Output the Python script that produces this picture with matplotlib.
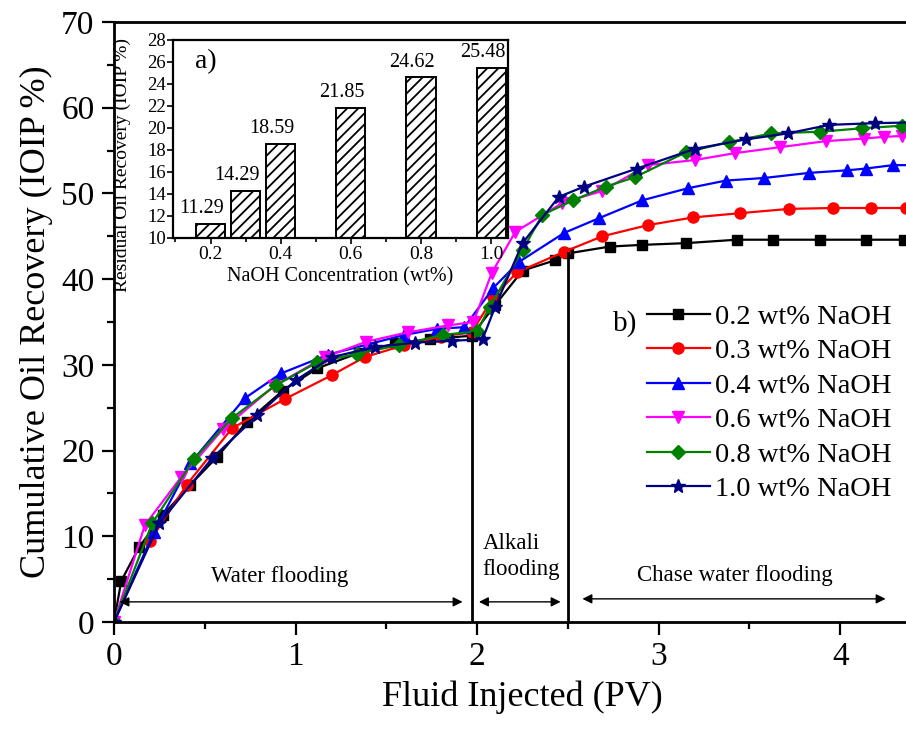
import matplotlib
matplotlib.use("Agg")
import matplotlib.pyplot as plt
from matplotlib.ticker import MultipleLocator, AutoMinorLocator

plt.rcParams['font.family'] = ['Liberation Serif', 'DejaVu Serif']
plt.rcParams['hatch.linewidth'] = 1.3
plt.rcParams['hatch.color'] = 'black'

# --- data: cumulative recovery curves ---
labels = ["0.2 wt% NaOH", "0.3 wt% NaOH", "0.4 wt% NaOH",
          "0.6 wt% NaOH", "0.8 wt% NaOH", "1.0 wt% NaOH"]

pv_02 = [0, 0.04, 0.14, 0.27, 0.42, 0.57, 0.73, 0.93, 1.12, 1.35, 1.55, 1.74, 1.97,
         2.1, 2.25, 2.43, 2.5, 2.73, 2.91, 3.15, 3.43, 3.63, 3.89, 4.14, 4.35]
rec_02 = [0, 4.8, 8.8, 12.5, 16.0, 19.3, 23.3, 27.0, 29.6, 31.4, 32.5, 33.0, 33.4,
          37.0, 41.0, 42.2, 43.0, 43.8, 44.0, 44.2, 44.6, 44.6, 44.6, 44.6, 44.6]

pv_03 = [0, 0.2, 0.4, 0.65, 0.94, 1.2, 1.38, 1.6, 1.8, 1.97,
         2.09, 2.22, 2.48, 2.69, 2.94, 3.19, 3.45, 3.72, 3.96, 4.17, 4.36]
rec_03 = [0, 9.5, 16.0, 22.6, 26.0, 28.8, 30.9, 32.3, 33.3, 33.8,
          37.9, 40.8, 43.2, 45.0, 46.3, 47.2, 47.7, 48.2, 48.3, 48.3, 48.3]

pv_04 = [0, 0.22, 0.42, 0.72, 0.92, 1.18, 1.4, 1.6, 1.78, 1.93,
         2.09, 2.23, 2.48, 2.67, 2.91, 3.16, 3.37, 3.58, 3.83, 4.04, 4.14, 4.29, 4.45]
rec_04 = [0, 10.5, 18.5, 26.1, 29.0, 31.2, 32.4, 33.5, 34.2, 34.4,
          39.0, 42.0, 45.4, 47.1, 49.2, 50.6, 51.5, 51.8, 52.4, 52.7, 52.9, 53.3, 53.3]

pv_06 = [0, 0.17, 0.37, 0.6, 0.88, 1.16, 1.39, 1.62, 1.84, 1.98,
         2.08, 2.21, 2.47, 2.69, 2.94, 3.2, 3.42, 3.67, 3.92, 4.13, 4.24, 4.34]
rec_06 = [0, 11.3, 16.9, 22.5, 27.5, 30.9, 32.7, 33.8, 34.6, 35.0,
          40.7, 45.5, 48.9, 50.3, 53.3, 53.9, 54.7, 55.4, 56.1, 56.4, 56.6, 56.7]

pv_08 = [0, 0.21, 0.44, 0.65, 0.89, 1.12, 1.34, 1.57, 1.81, 2.0,
         2.07, 2.25, 2.36, 2.53, 2.71, 2.87, 3.15, 3.39, 3.62, 3.89, 4.12, 4.34]
rec_08 = [0, 11.5, 19.0, 23.8, 27.6, 30.3, 31.3, 32.3, 33.5, 33.9,
          36.8, 43.4, 47.5, 49.2, 50.8, 51.9, 54.8, 56.0, 57.0, 57.2, 57.6, 57.9]

pv_10 = [0, 0.25, 0.54, 0.79, 1.0, 1.2, 1.44, 1.66, 1.86, 2.03,
         2.1, 2.25, 2.45, 2.59, 2.88, 3.2, 3.48, 3.71, 3.94, 4.19, 4.45]
rec_10 = [0, 11.5, 19.1, 24.1, 28.2, 30.9, 32.1, 32.6, 32.8, 33.0,
          36.8, 44.2, 49.6, 50.8, 52.9, 55.2, 56.3, 57.0, 58.0, 58.2, 58.3]

# --- data: inset bar chart ---
conc = [0.2, 0.3, 0.4, 0.6, 0.8, 1.0]
residual = [11.29, 14.29, 18.59, 21.85, 24.62, 25.48]

series = [(pv_02, rec_02), (pv_03, rec_03), (pv_04, rec_04),
          (pv_06, rec_06), (pv_08, rec_08), (pv_10, rec_10)]
colors = ['black', '#ff0000', '#0000ff', '#ff00ff', '#008000', '#000080']
markers = ['s', 'o', '^', 'v', 'D', '*']
msizes = [7, 8, 8.5, 8.5, 7, 10]

W, H = 906, 731
fig = plt.figure(figsize=(W / 100, H / 100), dpi=100)

# main axes (extends past the right edge like the original crop)
ax = fig.add_axes([114 / W, 109 / H, (931 - 114) / W, 600 / H])
for (x, y), c, m, ms, lab in zip(series, colors, markers, msizes, labels):
    ax.plot(x, y, color=c, marker=m, markersize=ms, linewidth=1.6, label=lab)

ax.set_xlim(0, 4.5)
ax.set_ylim(0, 70)
ax.xaxis.set_major_locator(MultipleLocator(1))
ax.xaxis.set_minor_locator(MultipleLocator(0.5))
ax.yaxis.set_major_locator(MultipleLocator(10))
ax.yaxis.set_minor_locator(MultipleLocator(5))
ax.tick_params(which='both', direction='out', width=1.6, labelsize=24)
ax.tick_params(which='major', length=9, pad=5)
ax.tick_params(which='minor', length=5)
for s in ax.spines.values():
    s.set_linewidth(2)
ax.set_xlabel("Fluid Injected (PV)", fontsize=26, labelpad=6)
ax.set_ylabel("Cumulative Oil Recovery (IOIP %)", fontsize=26, labelpad=6)

# stage boundaries
ax.plot([1.97, 1.97], [0, 33.7], color='black', linewidth=2)
ax.plot([2.5, 2.5], [0, 43.0], color='black', linewidth=2)

arrow = dict(arrowstyle='<|-|>', color='black', lw=1.0,
             mutation_scale=14, shrinkA=0, shrinkB=0)
ax.annotate('', xy=(0.03, 2.35), xytext=(1.92, 2.35), arrowprops=arrow)
ax.annotate('', xy=(2.01, 2.35), xytext=(2.46, 2.35), arrowprops=arrow)
ax.annotate('', xy=(2.58, 2.7), xytext=(4.25, 2.7), arrowprops=arrow)
ax.text(0.91, 5.3, "Water flooding", fontsize=16.5, ha='center', va='center')
ax.text(2.03, 7.6, "Alkali\nflooding", fontsize=16.5, ha='left', va='center',
        linespacing=1.3)
ax.text(3.42, 5.4, "Chase water flooding", fontsize=16.5, ha='center', va='center')

leg = ax.legend(loc='upper left', bbox_to_anchor=(647 / W, 1 - 304 / H),
                bbox_transform=fig.transFigure, frameon=False, fontsize=20.5,
                handlelength=2.2, handletextpad=0.2, labelspacing=0.3,
                borderpad=0, borderaxespad=0)
fig.text(613 / W, 1 - 324 / H, "b)", fontsize=21, ha='left', va='center')

# inset bar chart
ins = fig.add_axes([173 / W, 1 - 238 / H, 335 / W, 198 / H])
ins.bar(conc, [r - 10 for r in residual], bottom=10, width=0.083,
        color='white', edgecolor='black', linewidth=1.4, hatch='///')
for c, r in zip(conc, residual):
    ins.text(c - 0.025, r + 1.35, f"{r:.2f}", fontsize=14.5, ha='center', va='center')
ins.set_xlim(0.093, 1.048)
ins.set_ylim(10, 28)
ins.xaxis.set_minor_locator(AutoMinorLocator(2))
ins.yaxis.set_major_locator(MultipleLocator(2))
ins.set_xticks([0.2, 0.4, 0.6, 0.8, 1.0])
ins.set_xticklabels(["0.2", "0.4", "0.6", "0.8", "1.0"])
ins.tick_params(which='both', direction='out', width=1.2, labelsize=14)
ins.tick_params(axis='y', labelsize=13.5, pad=1)
ins.tick_params(which='major', length=4)
ins.tick_params(axis='x', which='major', pad=2)
ins.tick_params(which='minor', length=3)
for s in ins.spines.values():
    s.set_linewidth(1.6)
ins.set_xlabel("NaOH Concentration (wt%)", fontsize=14.5, labelpad=3)
ins.set_ylabel("Residual Oil Recovery (IOIP %)", fontsize=14)
ins.yaxis.set_label_coords(-0.125, 0.37)
ins.text(0.065, 0.89, "a)", transform=ins.transAxes, fontsize=20,
         ha='left', va='center')

fig.savefig("out.png", dpi=100)
